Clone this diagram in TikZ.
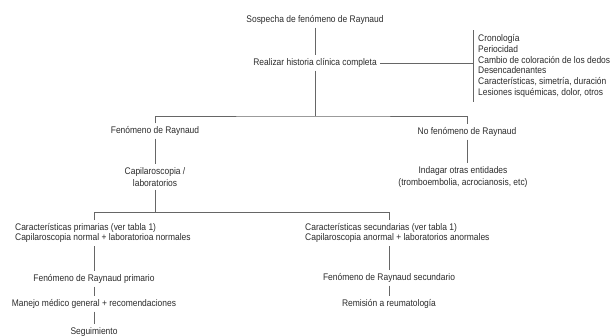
\documentclass[tikz,border=0pt]{standalone}
\usepackage{fontspec}
\setmainfont{Liberation Sans}[FakeStretch=0.88]
\usetikzlibrary{positioning}
\definecolor{clrline}{HTML}{666666}
\definecolor{clrtext}{HTML}{2B2B2B}

\begin{document}
\begin{tikzpicture}[
    x=1pt, y=-1pt,
    every node/.style={font=\fontsize{9.6}{10.8}\selectfont, text=clrtext},
    stepnode/.style={inner sep=3pt, align=center},
    listnode/.style={inner sep=3pt, align=left, anchor=west},
    link/.style={draw=clrline, line width=0.8pt},
]
\useasboundingbox (0,0) rectangle (615,335);
\node[stepnode] (n_1) at (315,20) {Sospecha de fenómeno de Raynaud};
\node[stepnode] (n_2) at (315,63) {Realizar historia clínica completa};
\coordinate (br_top) at (473,30);
\coordinate (br_bot) at (473,102);
\node[listnode] (n_3) at (475,66) {Cronología\\Periocidad\\Cambio de coloración de los dedos\\Desencadenantes\\Características, simetría, duración\\Lesiones isquémicas, dolor, otros};
\coordinate (j_1) at (315,116);
\node[stepnode] (n_4) at (155,131) {Fenómeno de Raynaud};
\node[stepnode] (n_5) at (467,132) {No fenómeno de Raynaud};
\node[stepnode] (n_6) at (155,177) {Capilaroscopia /\\[1pt]laboratorios};
\node[stepnode] (n_7) at (463,177) {Indagar otras entidades\\[1pt](tromboembolia, acrocianosis, etc)};
\coordinate (j_2) at (155,212);
\coordinate (d_1) at (94,212);
\coordinate (d_2) at (389,212);
\node[listnode] (n_8) at (12,233) {Características primarias (ver tabla 1)\\Capilaroscopia normal + laboratorioa normales};
\node[listnode] (n_9) at (302,233) {Características secundarias (ver tabla 1)\\Capilaroscopia anormal + laboratorios anormales};
\node[stepnode] (n_10) at (94,279) {Fenómeno de Raynaud primario};
\node[stepnode] (n_11) at (389,278) {Fenómeno de Raynaud secundario};
\node[stepnode] (n_12) at (94,304) {Manejo médico general + recomendaciones};
\node[stepnode] (n_13) at (389,304) {Remisión a reumatología};
\node[stepnode] (n_14) at (94,332) {Seguimiento};
\draw[link] (n_1) -- (n_2);
\draw[link] (n_2.east) -- (n_2.east -| br_top);
\draw[link] (br_top) -- (br_bot);
\draw[link] (n_2) -- (j_1);
\draw[link] (n_4) |- (j_1) -| (n_5);
\draw[link] (n_4) -- (n_6);
\draw[link] (n_5.south) -- (n_5.south |- n_7.north);
\draw[link] (n_6) -- (j_2);
\draw[link] (d_1) -- (d_2);
\draw[link] (d_1) -- (d_1 |- n_8.north);
\draw[link] (d_2) -- (d_2 |- n_9.north);
\draw[link] (d_1 |- n_8.south) -- (n_10);
\draw[link] (d_2 |- n_9.south) -- (n_11);
\draw[link] (n_10) -- (n_12);
\draw[link] (n_11) -- (n_13);
\draw[link] (n_12) -- (n_14);
\end{tikzpicture}
\end{document}
